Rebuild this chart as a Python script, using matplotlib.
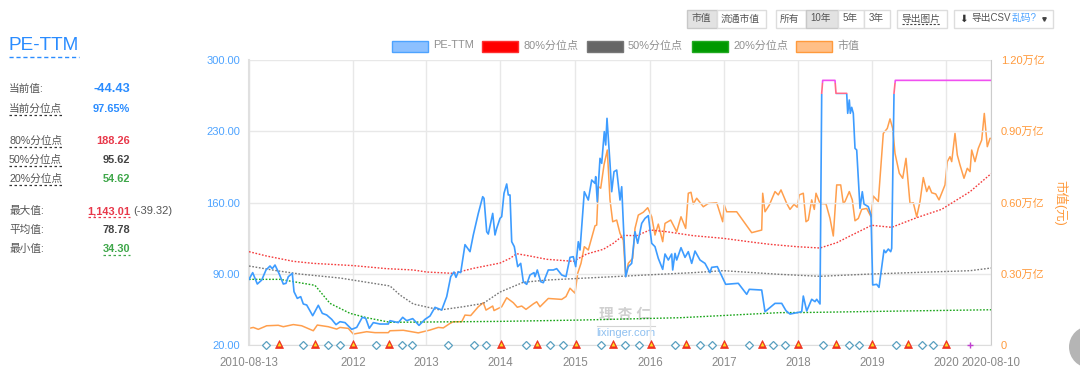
import matplotlib
matplotlib.use("Agg")
import matplotlib.pyplot as plt
from matplotlib.patches import Rectangle, Circle

plt.rcParams['font.family'] = ['Liberation Sans', 'Noto Sans CJK SC', 'DejaVu Sans']

# trading-position x axis (category-like), y axes: PE and market cap (trillion-yuan)
tick_pos = [0, 104, 177, 251, 326, 401, 475, 549, 623, 697, 742]
tick_labels = ['2010-08-13', '2012', '2013', '2014', '2015', '2016', '2017', '2018', '2019', '2020', '2020-08-10']
pe_ticks = [20, 90, 160, 230, 300]
pe_tick_labels = ['20.00', '90.00', '160.00', '230.00', '300.00']
cap_ticks = [0, 0.3, 0.6, 0.9, 1.2]
cap_tick_labels = ['0', '0.30万亿', '0.60万亿', '0.90万亿', '1.20万亿']

pe_x = [0,3.7,8.3,12.7,17,21,23.3,26,30.3,34.3,37,39.3,43.3,45,48.3,51.7,54.3,57.7,63.7,69.3,73.3,77.7,82.7,87,91,96,102.7,107.7,113.3,116.7,120.3,124.3,131,139.3,141,149.3,153.7,157.7,163.7,170,176,181,186,192.7,197.7,201.7,205,207,209.3,211.7,216,221,224.3,229.3,233.7,
        235,237.7,239.3,243.7,246,247.7,251,252.7,255,257.7,259.3,261,262.7,265.3,268.7,271.7,274.3,277.7,281,285,286,288.3,291.7,294.3,299.3,304.3,307.7,312.7,317,321,324.3,326.7,329.3,331,335.3,339.3,342.7,346,346.7,348.3,351,352.7,355.3,356.7,358,361,362.7,365,367.7,371,372.7,376.7,379.3,382.7,386,388.7,392.7,396,399.3,402.7,406,409.3,413.7,416,419.3,422.7,423.7,426,427.7,432,436,439.3,442.7,446,451,456,461,462.7,468.3,476.7,489.3,497.7,500.3,512.7,516,526,
        532.7,537,541,552.7,554.3,557.7,562.7,566,567.7,571,572.7,573.7,586,587,597.7,598.7,600.3,601.3,602.7,604.3,606,607.7,611,613.3,615,619.3,622,623.7,627.7,630,635,636.7,639.3,641.7,642.7,645,646.3,742]
pe_y = [84.5,91.1,79.9,83.8,93.7,97.6,95,98.6,89.7,79.9,80.6,87.1,90.4,72.4,65.8,67.5,60.3,59.3,48.8,59,51.1,49.5,45.2,40,42.9,42,35.4,37.3,47.2,46.2,36.4,42,40.6,40.6,43.9,42,47.2,43.9,45.9,39.3,45.2,48.5,57,54.4,67.5,87.1,91.7,86.5,92,91.1,118.6,111.7,128.1,149.3,165.7,
        164.1,131.3,129,149.3,128.1,134.6,144.4,146.1,169,178.2,167.4,167.4,121.5,116.6,97,100.2,82.2,79.6,88.8,91.1,87.1,93.7,82.2,81.2,93.7,93.7,95,88.8,87.1,106.1,106.8,97,121.5,113.3,170.6,162.4,182.1,178.8,185.4,160.8,203.4,198.5,229.6,216.5,242.7,198.5,170.6,190.3,191.9,162.4,175.5,87.1,97,100.2,131.3,119.9,139.5,144.4,147.1,119.9,116.6,105.1,94.3,109.4,103.5,109.4,93.7,110,103.5,115.6,106.1,111.7,100.2,112.3,103.5,100.2,91.1,96.3,97,79.6,80.6,69.8,74.7,74,52.7,60.9,
        60.9,53.7,50.4,52.7,68.1,53.4,64.9,62.6,64.9,60.3,267.2,280,280,267.2,267.2,247.6,260.7,247.6,253.5,247.6,213.2,211.6,154.3,170.6,158.5,155.9,147.7,79,79.6,76.6,113.3,110.7,114.3,111.7,115,267.2,280,280]

cap_x = [0,4.3,9.3,17.7,29.3,34.3,44.3,52.7,64.3,68.3,79.3,87.7,91,99.3,104.3,117.7,126,139.3,141,154.3,169.3,181,189.3,194.3,201,204.3,212.7,216,221.7,229.3,234.3,
         237,243.7,245,252.7,257.7,264.3,268.3,272.7,277,284.3,287.7,291,299.3,312.7,317,321,326,328.7,332,335.3,339.3,346,347.7,349.3,351.7,355,358.3,361,363.7,367.7,371,374.3,376.7,379.3,383.7,386,389.3,394.3,398.7,402.7,406,409.3,413.7,416,421.7,427.7,432,436.7,439.3,442,444.3,447.7,454.3,459.3,467.7,473.7,475.3,477.7,487.7,496,502.7,512.7,513.7,516,520.3,526,
         529.3,532,537.7,541,545,548.3,550.3,554.3,557,559.3,562.7,565.3,567,571,577,581,584.3,587.7,591.7,594.3,596,600.3,603.3,606,609.3,612.7,617.7,622,624.3,629.3,634.3,638.3,641,643.7,646,650.3,653.7,657,661,664.3,667.7,671,674.3,677.7,680,682.7,686.7,690,696,698.3,701,702.7,706,708.3,711,715,718.3,721,722.7,726,729.3,732.7,735.3,738.3,741,742]
cap_y = [.070,.074,.066,.081,.083,.077,.086,.081,.060,.084,.077,.067,.074,.070,.046,.056,.052,.052,.060,.062,.051,.063,.074,.072,.091,.098,.098,.126,.124,.161,.178,
         .147,.164,.145,.161,.199,.178,.159,.164,.150,.173,.182,.161,.196,.192,.204,.239,.218,.302,.344,.414,.400,.502,.505,.667,.660,.758,.821,.611,.519,.526,.470,.442,.288,.344,.365,.491,.547,.559,.578,.540,.463,.509,.435,.512,.526,.477,.540,.491,.639,.643,.594,.618,.582,.596,.599,.519,.589,.561,.561,.512,.473,.484,.639,.561,.589,.646,
         .632,.653,.596,.571,.592,.580,.632,.639,.519,.526,.611,.571,.639,.596,.594,.533,.459,.674,.674,.596,.604,.646,.611,.523,.533,.571,.575,.540,.627,.604,.891,.912,.952,.912,.807,.723,.702,.786,.596,.599,.540,.604,.705,.646,.669,.641,.636,.611,.674,.772,.793,.772,.891,.800,.758,.702,.744,.730,.821,.772,.828,.863,.975,.835,.870,.870]

p80_x = [0,17.7,44.3,64.3,104.3,137.7,164.3,177.7,204.3,224.3,251,261,267.7,281,297.7,324.3,337.7,354.3,364.3,374.3,387.7,401,417.7,444.3,474.3,504.3,521,547.7,571,587.7,601,622.7,642.7,667.7,692.7,721,742]
p80_y = [111.7,107.4,102.2,100.2,98,95,93.7,91.7,90.4,95.3,100.5,105.1,109.7,107.4,104.2,102.2,109.4,114,119.9,127.7,127.4,133,131.3,127.4,124.8,120.9,118.9,116.6,115.3,120.5,127.1,137.6,135.6,145.1,153.3,170.6,188.26]
p50_x = [0,27.7,51,91,141,151,164.3,191,214.3,234.3,251,274.3,297.7,331,364.3,397.7,444.3,474.3,504.3,531,571,621,671,721,742]
p50_y = [97.6,93,89.7,85.8,78,69.1,60.3,54.4,57.6,60.9,72,81.6,83.8,85.5,87.1,88.8,91.1,93,91.1,89.4,87.5,89.7,91.4,93,95.62]
p20_x = [0,31,66,81,101,117.7,141,251,331,431,531,554.3,654,742]
p20_y = [84.5,84.5,78.6,60.9,51.1,46.8,42.3,43.2,44.5,46.8,51.8,51.9,53.4,54.62]

diamond_x = [16.7,54.3,79.3,91,127,152.7,162.7,199.3,225.3,237,277,301,314.3,352,376.3,390,426,450.7,462.7,500.3,524.3,536,573.7,599.7,609.7,647.3,672.7,684]
triangle_x = [30,66,103.7,140.3,251.7,288.3,327,363.7,402.3,437.3,475.3,512.7,549.3,587.3,623,659,696.7]
plus_x = [721.3]

legend_items = ['PE-TTM', '80%分位点', '50%分位点', '20%分位点', '市值']
stat_rows = [('当前值:', '-44.43'), ('当前分位点', '97.65%'), ('80%分位点', '188.26'), ('50%分位点', '95.62'),
             ('20%分位点', '54.62'), ('最大值:', '1,143.01'), ('平均值:', '78.78'), ('最小值:', '34.30')]

W, H = 1080, 380
BLUE, ORANGE = '#3d9cff', '#ff9a3c'
fig = plt.figure(figsize=(W/100, H/100), dpi=100, facecolor='white')

# full-figure overlay in pixel coordinates for page furniture
ui = fig.add_axes([0, 0, 1, 1], zorder=0)
ui.set_xlim(0, W); ui.set_ylim(H, 0); ui.axis('off')

L, R, T, B = 249, 991, 60, 345
ax = fig.add_axes([L/W, 1-B/H, (R-L)/W, (B-T)/H], zorder=3)
ax.patch.set_alpha(0)
ax.set_xlim(0, 742); ax.set_ylim(20, 300)
ax.set_xticks(tick_pos); ax.set_xticklabels(tick_labels, fontsize=8.3, color='#888888')
ax.set_yticks(pe_ticks); ax.set_yticklabels(pe_tick_labels, fontsize=8, color='#4da3ff')
ax.tick_params(axis='y', length=0, pad=6.5)
ax.tick_params(axis='x', length=0, pad=9)
ax.grid(True, color='#e8e8e8', lw=1)
ax.set_axisbelow(True)
for s in ax.spines.values():
    s.set_visible(False)
ax.spines['left'].set_visible(True); ax.spines['left'].set_color('#e0e0e0'); ax.spines['left'].set_linewidth(1.5)
ax.spines['right'].set_visible(True); ax.spines['right'].set_color('#cccccc')
ax.spines['bottom'].set_visible(True); ax.spines['bottom'].set_color('#dddddd')

ax2 = fig.add_axes(ax.get_position(), zorder=2, sharex=ax)
ax2.patch.set_alpha(0)
ax2.set_ylim(0, 1.2)
ax2.yaxis.tick_right()
ax2.set_yticks(cap_ticks); ax2.set_yticklabels(cap_tick_labels, fontsize=8, color=ORANGE)
ax2.tick_params(axis='y', length=0, pad=7)
ax2.tick_params(axis='x', length=0, labelbottom=False)
for s in ax2.spines.values():
    s.set_visible(False)
fig.text(1060/W, 1-203/H, '市值(元)', rotation=270, color=ORANGE, fontsize=9, ha='center', va='center')

ax2.plot(cap_x, cap_y, color='#ff9f4d', lw=1.1, zorder=3)
dash = (0, (1.2, 1.2))
ax.plot(p80_x, p80_y, color='#f43c3c', lw=1, ls=dash, zorder=3)
ax.plot(p50_x, p50_y, color='#777777', lw=1, ls=dash, zorder=3)
ax.plot(p20_x, p20_y, color='#1aa51a', lw=1, ls=dash, zorder=3)

# PE line: blue below the cap band, pink then magenta within it
for lo, hi, c in [(20, 267, BLUE), (267, 277, '#ff6a8a'), (277, 300, '#f050f0')]:
    ln, = ax.plot(pe_x, pe_y, color=c, lw=1.2, zorder=4)
    ln.set_clip_path(Rectangle((0, lo), 742, hi-lo, transform=ax.transData))

ax.plot(diamond_x, [20]*len(diamond_x), ls='none', marker='D', ms=3.8, mfc='white', mec='#5aa0c0', mew=.9, zorder=5, clip_on=False)
ax.plot(triangle_x, [21]*len(triangle_x), ls='none', marker='^', ms=5.4, mfc='#f03020', mec='#f03020', mew=.5, zorder=5, clip_on=False)
ax.plot(triangle_x, [20.5]*len(triangle_x), ls='none', marker='^', ms=2.8, mfc='#ffe020', mec='none', zorder=6, clip_on=False)
ax.plot(plus_x, [20]*len(plus_x), ls='none', marker='+', ms=5, mec='#c040d0', mew=1, zorder=5, clip_on=False)

# legend
leg_boxes = [(391, '#8cc0ff', '#4da3ff'), (481, '#ff0000', '#ff3030'), (586, '#666666', '#777777'), (691, '#009900', '#22aa22'), (795, '#ffbf87', '#ff9a3c')]
for (x, fc, ec), name in zip(leg_boxes, legend_items):
    ui.add_patch(Rectangle((x+.5, 40.5), 36, 11, fc=fc, ec=ec, lw=1))
    ui.text(x+42, 45.5, name, fontsize=7.9, color='#909090', va='center', ha='left')

# title and side statistics
ui.text(9, 45.5, 'PE-TTM', fontsize=13.7, color='#2a8cff', va='center')
ui.plot([9, 79], [57, 57], color='#2a8cff', lw=1, ls=(0, (3, 2)))
ys = [89, 109, 141, 160, 179, 211, 230, 249]
colors = ['#2a8cff', '#2a8cff', '#e8384a', '#444444', '#3fa74a', '#e8384a', '#444444', '#3fa74a']
sizes = [9.2, 7.9, 7.9, 7.9, 7.9, 7.9, 7.9, 7.9]
for (name, val), y, c, s in zip(stat_rows, ys, colors, sizes):
    ui.text(9, y, name, fontsize=7.7, color='#555555', va='center')
    ui.text(130, y, val, fontsize=s, color=c, va='center', ha='right', fontweight='bold')
for y in [115, 147, 166, 185]:
    ui.plot([9, 62], [y, y], color='#333333', lw=.9, ls=(0, (2, 2)))
ui.plot([88, 130], [217, 217], color='#e8384a', lw=.9, ls=(0, (2, 2)))
ui.plot([103, 130], [255, 255], color='#3fa74a', lw=.9, ls=(0, (2, 2)))
ui.text(133, 211, '(-39.32)', fontsize=8, color='#555555', va='center')

# buttons
def btn(x0, x1, label, active=False, size=7):
    ui.add_patch(Rectangle((x0+.5, 9.5), x1-x0, 18, fc='#e2e2e2' if active else 'white',
                           ec='#c8c8c8' if active else '#dddddd', lw=1))
    ui.text((x0+x1)/2, 18.5, label, fontsize=size, color='#555555', ha='center', va='center')
btn(686, 716, '市值', True); btn(716, 765, '流通市值')
btn(775, 805, '所有'); btn(805, 837, '10年', True); btn(837, 863, '5年'); btn(863, 889, '3年')
btn(896, 946, '导出图片')
ui.plot([902, 940], [24, 24], color='#444444', lw=.8, ls=(0, (2, 1.5)))
ui.add_patch(Rectangle((953.5, 9.5), 99, 18, fc='white', ec='#dddddd', lw=1))
ui.text(959, 18.5, '⬇', fontsize=7.5, color='#333333', va='center', family=['DejaVu Sans'])
ui.text(971, 18.5, '导出CSV', fontsize=7, color='#555555', va='center')
ui.text(1012, 18.5, '乱码?', fontsize=7, color='#4da3ff', va='center')
ui.plot([1044], [19], marker='v', ms=2.5, color='#444444')

# watermark and corner badge
ui.text(625, 315, '理 杏 仁', fontsize=10.5, color='#d0d0d0', ha='center', va='center', fontweight='bold', zorder=1)
ui.plot([597, 655], [326, 326], color='#d4d4d4', lw=.8)
ui.text(626, 333.5, 'lixinger.com', fontsize=8, color='#8fc0f0', ha='center', va='center')
ui.add_patch(Circle((1090, 347), 21, fc='#b5b5b5', ec='none'))

fig.savefig('out.png', dpi=100)
